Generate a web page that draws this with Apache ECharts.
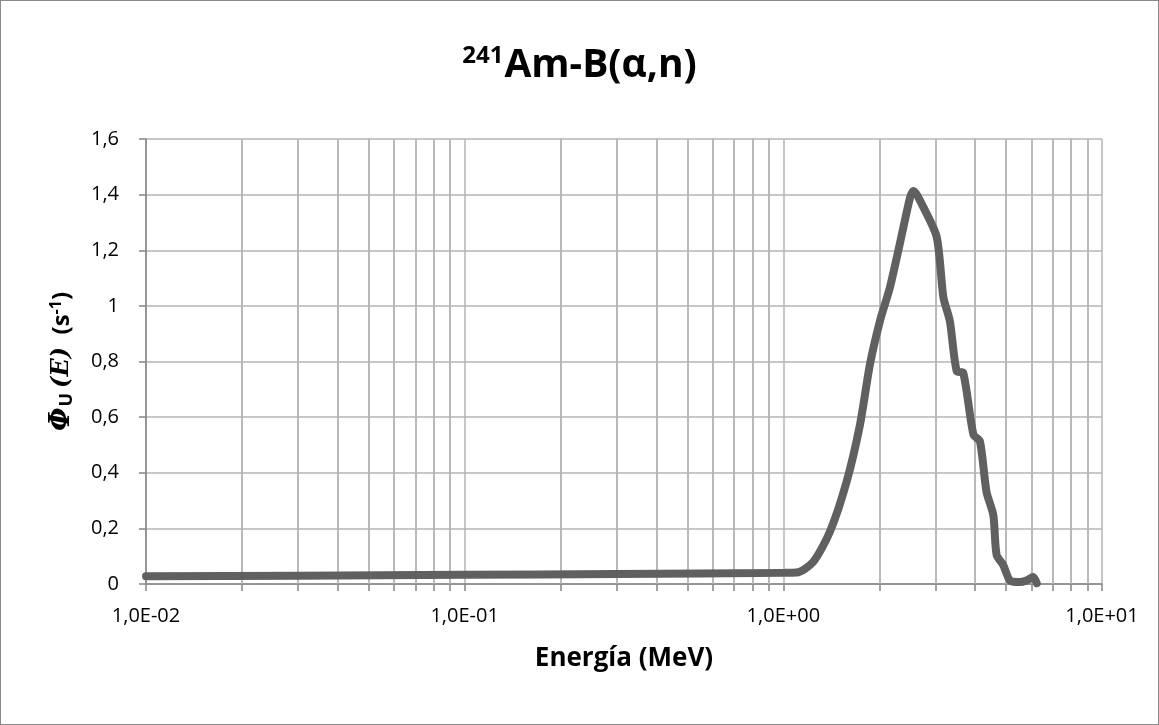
<!DOCTYPE html>
<html>
<head>
<meta charset="utf-8">
<script src="https://cdn.jsdelivr.net/npm/echarts@6/dist/echarts.min.js"></script>
<style>
html,body{margin:0;padding:0;background:#fff;}
#c{width:1157px;height:723px;border:1px solid #898989;}
</style>
</head>
<body>
<div id="c"></div>
<script>
// Energy (MeV) and flux values
const energy = [0.01, 0.03, 0.1, 0.3, 1.0, 1.1, 1.24, 1.40, 1.58, 1.74, 1.87, 2.01, 2.16, 2.32, 2.50, 2.56, 2.75, 3.03, 3.18, 3.33, 3.50, 3.67, 3.95, 4.14, 4.34, 4.56, 4.67, 4.90, 5.14, 5.52, 5.80, 6.08, 6.24];
const flux   = [0.028, 0.030, 0.033, 0.036, 0.040, 0.041, 0.079, 0.188, 0.368, 0.573, 0.79, 0.946, 1.066, 1.223, 1.391, 1.413, 1.355, 1.247, 1.03, 0.946, 0.765, 0.759, 0.537, 0.513, 0.332, 0.248, 0.104, 0.068, 0.013, 0.007, 0.013, 0.025, 0.003];
const xMajorTicks = [0.01, 0.1, 1, 10];
const xMinorTicks = [0.02,0.03,0.04,0.05,0.06,0.07,0.08,0.09,0.2,0.3,0.4,0.5,0.6,0.7,0.8,0.9,2,3,4,5,6,7,8,9];
const yTicks = [0, 0.2, 0.4, 0.6, 0.8, 1, 1.2, 1.4, 1.6];

const font = "'Open Sans', 'Liberation Sans', sans-serif";
const chart = echarts.init(document.getElementById('c'), null, {renderer: 'canvas'});

function fmtX(v) {
  const e = Math.round(Math.log10(v));
  const s = e < 0 ? '-' : '+';
  const a = Math.abs(e);
  return '1,0E' + s + (a < 10 ? '0' : '') + a;
}
function fmtY(v) {
  return String(Math.round(v * 10) / 10).replace('.', ',');
}

chart.setOption({
  animation: false,
  title: {
    text: '{sup|241}{main|Am-B(α,n)}',
    left: 'center',
    top: 38,
    textStyle: {
      rich: {
        sup: {fontFamily: font, fontWeight: 'bold', fontSize: 24, color: '#000', verticalAlign: 'top', padding: [0,1,20,0]},
        main: {fontFamily: font, fontWeight: 'bold', fontSize: 39, color: '#000'}
      }
    }
  },
  grid: {left: 145, right: 56, top: 138, bottom: 140, containLabel: false},
  xAxis: {
    type: 'log',
    logBase: 10,
    min: 0.01,
    max: 10,
    name: 'Energía (MeV)',
    nameLocation: 'middle',
    nameGap: 62,
    nameTextStyle: {fontFamily: font, fontWeight: 'bold', fontSize: 26, color: '#000'},
    axisLine: {show: true, onZero: false, lineStyle: {color: '#868686', width: 1.5}},
    axisTick: {show: true, length: 7, customValues: xMajorTicks.concat(xMinorTicks), lineStyle: {color: '#868686', width: 1.5}},
    axisLabel: {fontFamily: font, fontSize: 20, color: '#000', margin: 22, customValues: xMajorTicks, formatter: fmtX},
    splitLine: {show: true, lineStyle: {color: '#b4b4b4', width: 1.5}}
  },
  yAxis: {
    type: 'value',
    min: 0,
    max: 1.6,
    interval: 0.2,
    name: '{phi|Φ}{sub|U}{e|(E)}{n|  (s}{sup|-1}{n|)}',
    nameLocation: 'middle',
    nameGap: 70,
    nameRotate: 90,
    nameTextStyle: {
      rich: {
        phi: {fontFamily: "'DejaVu Serif', serif", fontStyle: 'italic', fontWeight: 'bold', fontSize: 27, color: '#000'},
        sub: {fontFamily: font, fontWeight: 'bold', fontSize: 18, color: '#000', verticalAlign: 'bottom', padding: [10,5,0,1]},
        e: {fontFamily: "'DejaVu Serif', serif", fontStyle: 'italic', fontWeight: 'bold', fontSize: 24, color: '#000'},
        n: {fontFamily: font, fontWeight: 'bold', fontSize: 24, color: '#000'},
        sup: {fontFamily: font, fontWeight: 'bold', fontSize: 16, color: '#000', verticalAlign: 'top', padding: [0,0,12,0]}
      }
    },
    axisLine: {show: true, lineStyle: {color: '#868686', width: 1.5}},
    axisTick: {show: true, length: 7, lineStyle: {color: '#868686', width: 1.5}},
    axisLabel: {fontFamily: font, fontSize: 20, color: '#000', margin: 27, formatter: fmtY},
    splitLine: {show: true, lineStyle: {color: '#b4b4b4', width: 1.5}}
  },
  series: [
    {
      type: 'line',
      data: [],
      z: 1,
      silent: true,
      markLine: {
        silent: true,
        symbol: 'none',
        label: {show: false},
        lineStyle: {type: 'solid', color: '#b4b4b4', width: 1.5},
        data: xMinorTicks.map(v => ({xAxis: v}))
      }
    },
    {
      type: 'line',
      z: 5,
      data: energy.map((e, i) => [e, flux[i]]),
      showSymbol: false,
      smooth: 0.25,
      lineStyle: {color: '#606060', width: 8, cap: 'round', join: 'round'},
      itemStyle: {color: '#606060'}
    }
  ]
});
</script>
</body>
</html>
